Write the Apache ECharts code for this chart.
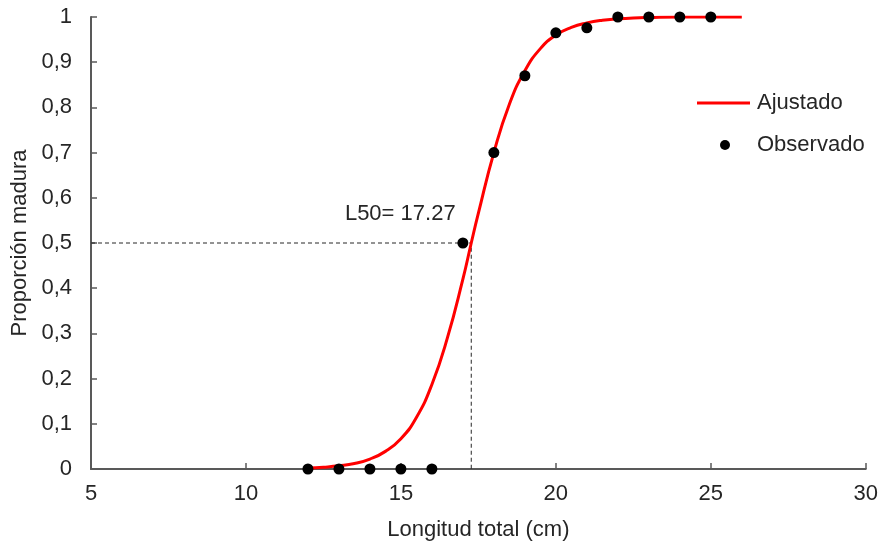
<!DOCTYPE html>
<html>
<head>
<meta charset="utf-8">
<script src="https://cdn.jsdelivr.net/npm/echarts@6/dist/echarts.min.js"></script>
<style>
html,body{margin:0;padding:0;background:#fff;}
#chart{width:881px;height:546px;}
</style>
</head>
<body>
<div id="chart"></div>
<script>
// Observed proportions
var obsX = [12, 13, 14, 15, 16, 17, 18, 19, 20, 21, 22, 23, 24, 25];
var obsY = [0, 0, 0, 0, 0, 0.50, 0.70, 0.87, 0.965, 0.976, 1, 1, 1, 1];
// Fitted curve
var fitX = [12, 12.5, 13, 13.5, 14, 14.5, 15, 15.5, 16, 16.5, 17, 17.27, 17.5, 18, 18.5, 19, 19.5, 20, 20.5, 21, 21.5, 22, 22.5, 23, 24, 25, 26];
var fitY = [0.002, 0.004, 0.007, 0.012, 0.022, 0.039, 0.067, 0.114, 0.187, 0.29, 0.42, 0.5, 0.566, 0.70, 0.807, 0.881, 0.930, 0.960, 0.977, 0.987, 0.993, 0.996, 0.998, 0.999, 1, 1, 1];
var L50 = 17.27;
var xTicks = [5, 10, 15, 20, 25, 30];
var yTicks = [0, 0.1, 0.2, 0.3, 0.4, 0.5, 0.6, 0.7, 0.8, 0.9, 1];

var FONT = "'Liberation Sans', Arial, sans-serif";
var TXT = '#262626';
var AX = '#595959';
var FS = 22;

var chart = echarts.init(document.getElementById('chart'), null, {renderer: 'canvas'});
var fitData = fitX.map(function (x, i) { return [x, fitY[i]]; });
var obsData = obsX.map(function (x, i) { return [x, obsY[i]]; });
var refData = [[xTicks[0], 0.5], [L50, 0.5], [L50, 0]];

chart.setOption({
  animation: false,
  textStyle: {fontFamily: FONT},
  grid: {left: 91, right: 13, top: 17, bottom: 77, containLabel: false},
  legend: [
    {
      data: [{name: 'Ajustado', icon: 'rect'}], left: 697, top: 92, padding: 0,
      itemWidth: 53, itemHeight: 3,
      textStyle: {fontFamily: FONT, fontSize: FS, color: TXT, padding: [0, 0, 0, 2]}
    },
    {
      data: [{name: 'Observado', icon: 'circle'}], left: 720, top: 134, padding: 0,
      itemWidth: 10, itemHeight: 10,
      textStyle: {fontFamily: FONT, fontSize: FS, color: TXT, padding: [0, 0, 0, 22]}
    }
  ],
  xAxis: {
    type: 'value', min: 5, max: 30, interval: 5,
    name: 'Longitud total (cm)', nameLocation: 'middle', nameGap: 50,
    nameTextStyle: {fontFamily: FONT, fontSize: FS, color: TXT},
    axisLine: {show: true, lineStyle: {color: AX, width: 2}},
    axisTick: {show: true, inside: true, length: 6, lineStyle: {color: AX, width: 1.5}},
    axisLabel: {fontFamily: FONT, fontSize: FS, color: TXT, margin: 14},
    splitLine: {show: false}
  },
  yAxis: {
    type: 'value', min: 0, max: 1, interval: 0.1,
    name: 'Proporción madura', nameLocation: 'middle', nameGap: 60,
    nameTextStyle: {fontFamily: FONT, fontSize: FS, color: TXT},
    axisLine: {show: true, lineStyle: {color: AX, width: 2}},
    axisTick: {show: true, inside: true, length: 6, lineStyle: {color: AX, width: 1.5}},
    axisLabel: {
      fontFamily: FONT, fontSize: FS, color: TXT, margin: 19,
      formatter: function (v) { return String(+v.toFixed(1)).replace('.', ','); }
    },
    splitLine: {show: false}
  },
  series: [
    {
      name: 'ref', type: 'line', data: refData, symbol: 'none', silent: true,
      lineStyle: {color: '#262626', width: 1, type: [4, 3]},
      z: 1
    },
    {
      name: 'L50', type: 'scatter', data: [[L50, 0.5]], symbolSize: 0, silent: true,
      itemStyle: {opacity: 1},
      label: {
        show: true, position: 'top', offset: [-71, -13], opacity: 1,
        formatter: 'L50= ' + L50.toFixed(2),
        fontFamily: FONT, fontSize: FS, color: TXT
      }
    },
    {
      name: 'Ajustado', type: 'line', data: fitData, smooth: true, symbol: 'none',
      lineStyle: {color: '#ff0000', width: 3}, itemStyle: {color: '#ff0000'}, z: 3
    },
    {
      name: 'Observado', type: 'scatter', data: obsData, symbol: 'circle', symbolSize: 11,
      itemStyle: {color: '#000000', opacity: 1}, z: 4
    }
  ]
});
</script>
</body>
</html>
